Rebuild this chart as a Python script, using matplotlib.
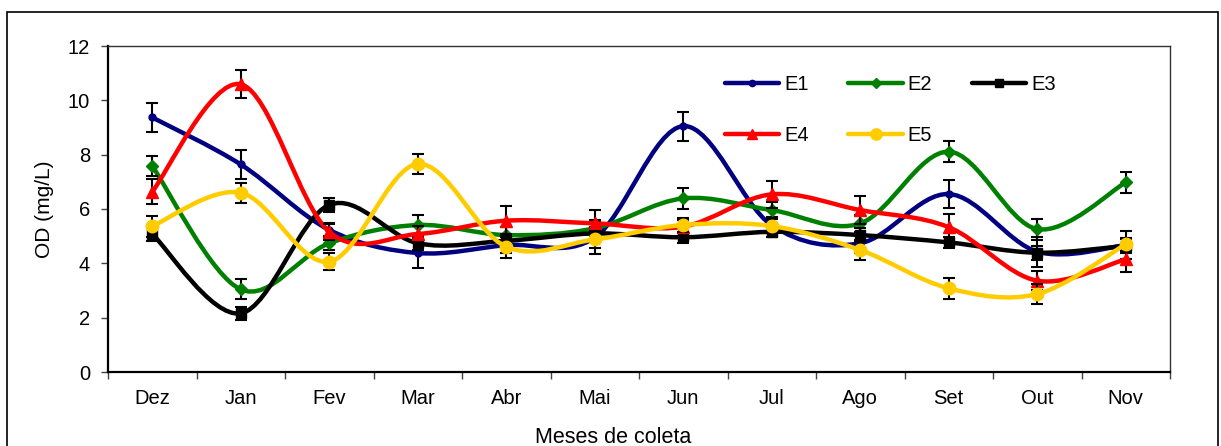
import numpy as np
import matplotlib
matplotlib.use("Agg")
import matplotlib.pyplot as plt
from matplotlib.path import Path
from matplotlib.patches import PathPatch, Rectangle
from matplotlib.lines import Line2D

plt.rcParams['font.family'] = ['Liberation Sans', 'DejaVu Sans']

months = ["Dez", "Jan", "Fev", "Mar", "Abr", "Mai", "Jun", "Jul", "Ago", "Set", "Out", "Nov"]

e1 = [9.37, 7.64, 5.23, 4.38, 4.67, 4.95, 9.05, 5.40, 4.74, 6.55, 4.43, 4.67]
e2 = [7.58, 3.04, 4.74, 5.41, 5.04, 5.29, 6.39, 5.96, 5.47, 8.11, 5.26, 6.98]
e3 = [5.08, 2.16, 6.15, 4.74, 4.83, 5.10, 4.96, 5.16, 5.04, 4.77, 4.39, 4.64]
e4 = [6.64, 10.59, 5.16, 5.08, 5.57, 5.47, 5.35, 6.54, 5.96, 5.33, 3.36, 4.15]
e5 = [5.37, 6.60, 4.06, 7.66, 4.61, 4.88, 5.41, 5.37, 4.49, 3.08, 2.87, 4.70]

e1_err = [0.52, 0.53, 0.25, 0.55, 0.30, 0.60, 0.53, 0.30, 0.35, 0.51, 0.55, 0.51]
e2_err = [0.38, 0.37, 0.25, 0.37, 0.30, 0.30, 0.40, 0.30, 0.30, 0.39, 0.39, 0.40]
e3_err = [0.25, 0.25, 0.26, 0.25, 0.25, 0.25, 0.20, 0.20, 0.25, 0.20, 0.25, 0.25]
e4_err = [0.45, 0.51, 0.30, 0.30, 0.55, 0.51, 0.25, 0.49, 0.53, 0.49, 0.35, 0.48]
e5_err = [0.39, 0.37, 0.31, 0.38, 0.43, 0.30, 0.25, 0.25, 0.37, 0.39, 0.37, 0.25]

series = [
    ("E1", e1, e1_err, "#000080", "o", 5),
    ("E2", e2, e2_err, "#008000", "D", 6),
    ("E3", e3, e3_err, "#000000", "s", 7),
    ("E4", e4, e4_err, "#FF0000", "^", 8),
    ("E5", e5, e5_err, "#FFCC00", "o", 9),
]


def smooth_path(xs, ys):
    # Excel-like smoothed line: Catmull-Rom drawn as cubic Bezier segments
    pts = np.column_stack([xs, ys])
    n = len(pts)
    verts = [pts[0]]
    codes = [Path.MOVETO]
    for i in range(n - 1):
        p0 = pts[i - 1] if i > 0 else pts[i]
        p1 = pts[i]
        p2 = pts[i + 1]
        p3 = pts[i + 2] if i + 2 < n else pts[i + 1]
        c1 = p1 + (p2 - p0) / 6.0
        c2 = p2 - (p3 - p1) / 6.0
        verts += [c1, c2, p2]
        codes += [Path.CURVE4] * 3
    return Path(verts, codes)


fig = plt.figure(figsize=(12.21, 4.46), dpi=100)
ax = fig.add_axes([108 / 1221, 74 / 446, 1062 / 1221, 326 / 446])

# outer frame like the source chart
fig.patches.append(Rectangle((7 / 1221, -0.2), 1211 / 1221, 1.2 - 12 / 446,
                             transform=fig.transFigure, fill=False,
                             edgecolor="black", linewidth=1.2, clip_on=False))

x = np.arange(len(months)) + 0.5
handles = {}
for k, (name, vals, errs, color, marker, ms) in enumerate(series):
    z = 2 + k
    ax.add_patch(PathPatch(smooth_path(x, vals), facecolor="none",
                           edgecolor=color, linewidth=3.2, zorder=z,
                           capstyle="round"))
    ax.errorbar(x, vals, yerr=errs, fmt="none", ecolor="black",
                elinewidth=1.5, capsize=4.5, capthick=1.5, zorder=z + 0.1)
    ax.plot(x, vals, linestyle="none", marker=marker, markersize=ms,
            color=color, zorder=z + 0.2)
    handles[name] = Line2D([], [], color=color, linewidth=3.2, marker=marker,
                           markersize=ms * 0.9, solid_capstyle="round")

ax.set_xlim(0, 12)
ax.set_ylim(0, 12)
ax.set_yticks(range(0, 13, 2))
ax.set_xticks(range(0, 13))
ax.set_xticklabels([])
ax.set_xticks(x, minor=True)
ax.set_xticklabels(months, minor=True)
ax.tick_params(axis="x", which="major", direction="out", length=5, width=1, color="#444444")
ax.tick_params(axis="x", which="minor", length=0, pad=12, labelsize=14.5)
ax.tick_params(axis="y", direction="out", length=5, width=1, pad=8, labelsize=14.5, color="#444444")

for side in ["left", "bottom"]:
    ax.spines[side].set_linewidth(1.6)
for side in ["top", "right"]:
    ax.spines[side].set_linewidth(1.0)
    ax.spines[side].set_color("#333333")

ax.set_ylabel("OD (mg/L)", fontsize=15, labelpad=10)
ax.set_xlabel("Meses de coleta", fontsize=15.5)
ax.xaxis.set_label_coords((613 - 108) / 1062, (372 - 427) / 326)

# legend filled column by column -> rows read E1 E2 E3 / E4 E5
order = ["E1", "E4", "E2", "E5", "E3"]
fig.legend([handles[n] for n in order], order, ncol=3, frameon=False,
           loc="upper left", bbox_to_anchor=(715 / 1221, 1 - 65 / 446),
           fontsize=14.5, handlelength=2.7, handletextpad=0.25,
           columnspacing=1.95, labelspacing=1.6, borderpad=0)

fig.savefig("out.png", dpi=100)
